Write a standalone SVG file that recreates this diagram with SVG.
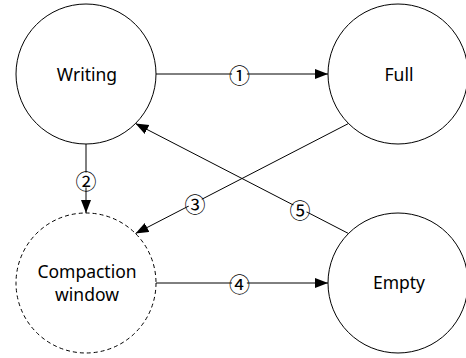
<svg xmlns="http://www.w3.org/2000/svg" width="466" height="358" viewBox="0 0 466 358">
  <style>
    .node { fill: #ffffff; stroke: #000000; stroke-width: 1; }
    .dashed { stroke-dasharray: 4 3; }
    .label { font-family: "Noto Sans", "Open Sans", sans-serif; font-size: 17.5px; fill: #000000; text-anchor: middle; }
    .edge { stroke: #000000; stroke-width: 1; fill: none; }
    .num { font-family: "Noto Sans CJK SC", "DejaVu Sans", sans-serif; font-size: 21px; fill: #000000; text-anchor: middle; dominant-baseline: central; }
    .mask { fill: #ffffff; stroke: none; }
  </style>
  <defs>
    <marker id="arrow" markerUnits="userSpaceOnUse" markerWidth="14" markerHeight="11" refX="13" refY="5" orient="auto">
      <path d="M0,0 L13,5 L0,10 Z" fill="#000000"/>
    </marker>
  </defs>
  <rect width="466" height="358" fill="#ffffff"/>

  <g id="node-writing">
    <circle class="node" cx="86" cy="74" r="70"/>
    <text class="label" x="87" y="80.5">Writing</text>
  </g>
  <g id="node-full">
    <circle class="node" cx="398" cy="74" r="70"/>
    <text class="label" x="399" y="80.5">Full</text>
  </g>
  <g id="node-compaction">
    <circle class="node dashed" cx="86" cy="283" r="70"/>
    <text class="label" x="87" y="277.5">Compaction</text>
    <text class="label" x="87" y="301">window</text>
  </g>
  <g id="node-empty">
    <circle class="node" cx="398" cy="283" r="70"/>
    <text class="label" x="399" y="288.5">Empty</text>
  </g>

  <g id="connectors">
    <g id="edge-1">
      <line class="edge" x1="156" y1="74" x2="328" y2="74" marker-end="url(#arrow)"/>
      <circle class="mask" cx="239.5" cy="74" r="7.5"/>
      <text class="num" x="239.5" y="74">①</text>
    </g>
    <g id="edge-2">
      <line class="edge" x1="86" y1="144" x2="86" y2="213" marker-end="url(#arrow)"/>
      <circle class="mask" cx="86" cy="180" r="7.5"/>
      <text class="num" x="86" y="180">②</text>
    </g>
    <g id="edge-3">
      <line class="edge" x1="348.5" y1="123.5" x2="135.5" y2="233.5" marker-end="url(#arrow)"/>
      <circle class="mask" cx="195" cy="202.5" r="7.5"/>
      <text class="num" x="195" y="202.5">③</text>
    </g>
    <g id="edge-4">
      <line class="edge" x1="156" y1="283" x2="328" y2="283" marker-end="url(#arrow)"/>
      <circle class="mask" cx="239.5" cy="283" r="7.5"/>
      <text class="num" x="239.5" y="283">④</text>
    </g>
    <g id="edge-5">
      <line class="edge" x1="348.5" y1="233.5" x2="135.5" y2="123.5" marker-end="url(#arrow)"/>
      <circle class="mask" cx="300" cy="208.5" r="7.5"/>
      <text class="num" x="300" y="208.5">⑤</text>
    </g>
  </g>
</svg>
